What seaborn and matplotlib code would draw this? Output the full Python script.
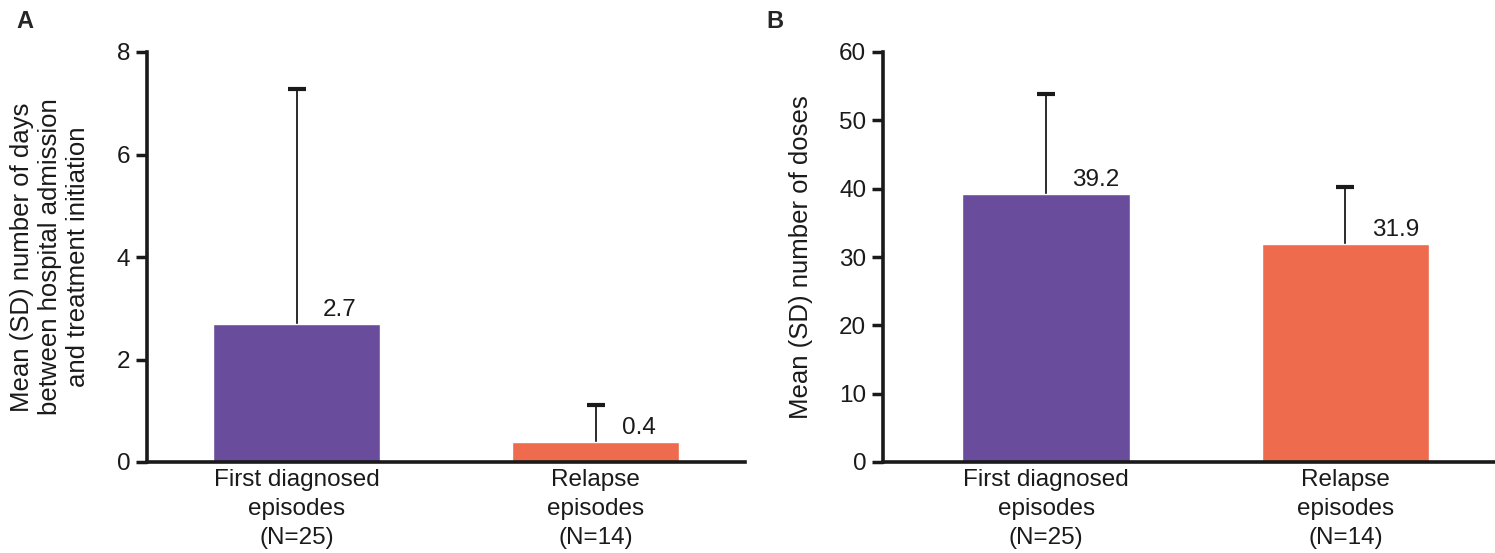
import seaborn as sns
import numpy as np
import pandas as pd
import matplotlib.pyplot as plt

# data
categories = ['First diagnosed\nepisodes\n(N=25)', 'Relapse\nepisodes\n(N=14)']
days_mean = [2.7, 0.4]
days_sd = [4.57, 0.71]
doses_mean = [39.2, 31.9]
doses_sd = [14.6, 8.3]
bar_colors = ['#6A4C9C', '#EE6B4D']

sns.set_style('white')
plt.rcParams['font.family'] = ['Liberation Sans', 'DejaVu Sans']

FS = 17.5
INK = '#1a1a1a'

fig = plt.figure(figsize=(14.95, 5.53), dpi=100)
axA = fig.add_axes([147 / 1495, 1 - 462 / 553, (745 - 147) / 1495, 410 / 553])
axB = fig.add_axes([883 / 1495, 1 - 462 / 553, (1495 - 883) / 1495, 410 / 553])


def draw_panel(ax, means, sds, ylim, yticks, ylabel, xlim):
    df = pd.DataFrame({'cat': categories, 'mean': means})
    sns.barplot(data=df, x='cat', y='mean', hue='cat', palette=bar_colors,
                saturation=1, width=0.56, legend=False, ax=ax, zorder=2)
    x = np.arange(len(means))
    # upward-only SD bars, caps drawn separately
    ax.errorbar(x, means, yerr=[np.zeros(len(sds)), sds], fmt='none',
                ecolor=INK, elinewidth=1.3, capsize=0, zorder=1)
    ax.plot(x, np.array(means) + np.array(sds), linestyle='none', marker='_',
            markersize=13, markeredgewidth=3, color=INK, zorder=3)
    for xi, m in zip(x, means):
        ax.annotate(f'{m:.1f}', (xi, m), xytext=(19, 2), textcoords='offset points',
                    ha='left', va='bottom', fontsize=FS, color=INK)
    ax.set_xlim(*xlim)
    ax.set_ylim(*ylim)
    ax.set_yticks(yticks)
    ax.set_xlabel('')
    ax.set_ylabel(ylabel, fontsize=18.5, color=INK, linespacing=1.22)
    ax.tick_params(axis='y', direction='out', length=8, width=2.5,
                   labelsize=FS, colors=INK, left=True, pad=4)
    ax.tick_params(axis='x', length=0, labelsize=FS, colors=INK, pad=5)
    for lab in ax.get_xticklabels():
        lab.set_linespacing(1.42)
    sns.despine(ax=ax)
    for s in ['left', 'bottom']:
        ax.spines[s].set_linewidth(2.6)
        ax.spines[s].set_color(INK)


draw_panel(axA, days_mean, days_sd, (0, 8), [0, 2, 4, 6, 8],
           'Mean (SD) number of days\nbetween hospital admission\nand treatment initiation',
           (-0.5, 1.5))
draw_panel(axB, doses_mean, doses_sd, (0, 60), [0, 10, 20, 30, 40, 50, 60],
           'Mean (SD) number of doses', (-0.545, 1.5))
axA.yaxis.set_label_coords(-0.095, 0.5)
axB.yaxis.set_label_coords(-0.114, 0.5)

fig.text(16 / 1495, 1 - 21 / 553, 'A', fontsize=17, fontweight='bold', va='center')
fig.text(766 / 1495, 1 - 21 / 553, 'B', fontsize=17, fontweight='bold', va='center')

fig.savefig('out.png', dpi=100)
